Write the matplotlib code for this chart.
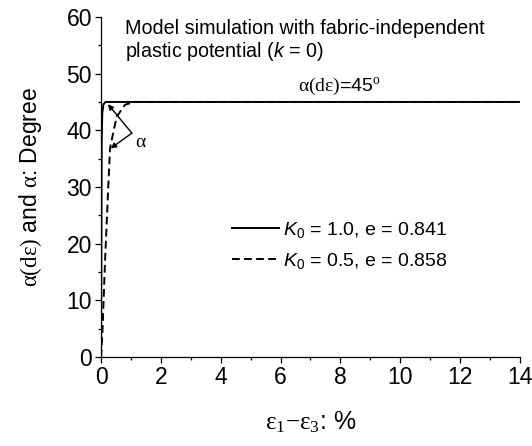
import matplotlib.pyplot as plt
import numpy as np

plt.rcParams['font.family'] = ['Liberation Sans', 'DejaVu Sans']
plt.rcParams['mathtext.fontset'] = 'custom'
plt.rcParams['mathtext.rm'] = 'Liberation Serif'
plt.rcParams['mathtext.it'] = 'Liberation Sans:italic'
plt.rcParams['mathtext.sf'] = 'Liberation Sans'

# K0 = 1.0, e = 0.841
strain_k10 = [0, 0.01, 0.02, 0.04, 0.08, 0.15, 14]
angle_k10 = [0, 20, 38, 43, 44.6, 45, 45]

# K0 = 0.5, e = 0.858
strain_k05 = [0, 0.05, 0.13, 0.24, 0.30, 0.52, 0.80, 1.1, 14]
angle_k05 = [0, 5, 16.6, 30, 36.9, 42.4, 44.5, 45, 45]

fig = plt.figure(figsize=(5.32, 4.46), dpi=100)
ax = fig.add_axes([0.19, 0.1996, 0.787, 0.7624])

ax.plot(strain_k10, angle_k10, color='black', lw=1.4,
        label=r'$K_\mathsf{0}$ = 1.0, e = 0.841')
ax.plot(strain_k05, angle_k05, color='black', lw=1.4, dashes=(4, 2.2),
        label=r'$K_\mathsf{0}$ = 0.5, e = 0.858')

ax.set_xlim(0, 14)
ax.set_ylim(0, 60)
ax.set_xticks(np.arange(0, 15, 2))
ax.set_xticks(np.arange(1, 14, 2), minor=True)
ax.set_yticks(np.arange(0, 61, 10))
ax.set_yticks(np.arange(5, 60, 10), minor=True)
ax.tick_params(which='major', direction='out', length=4.5, width=0.9,
               labelsize=16.5, pad=2)
ax.tick_params(which='minor', direction='out', length=2.5, width=0.9)
ax.spines['top'].set_visible(False)
ax.spines['right'].set_visible(False)
for s in ('left', 'bottom'):
    ax.spines[s].set_linewidth(0.9)

ax.set_xlabel(r'$\mathrm{\varepsilon_1{-}\varepsilon_3}$: %', fontsize=18, labelpad=15)
ax.set_ylabel(r'$\mathrm{\alpha(d\varepsilon)}$ and $\mathrm{\alpha}$: Degree',
              fontsize=16.5, labelpad=16)

ax.text(0.8, 59.6, 'Model simulation with fabric-independent\n'
        'plastic potential ($k$ = 0)', fontsize=14.2, va='top', ha='left',
        linespacing=1.1)
ax.text(6.6, 45.8, r'$\mathrm{\alpha(d\varepsilon)}$=45$^\mathrm{o}$',
        fontsize=14, ha='left', va='bottom')

# angle marker between the two curves
vertex = (1.03, 39.5)
for tip in [(0.23, 44.6), (0.32, 36.8)]:
    ax.annotate('', xy=tip, xytext=vertex,
                arrowprops=dict(arrowstyle='-|>', color='black', lw=1.0,
                                mutation_scale=8, shrinkA=0, shrinkB=0))
ax.text(1.12, 37.8, r'$\mathrm{\alpha}$', fontsize=14, ha='left', va='center')

ax.legend(loc='upper left', bbox_to_anchor=(0.294, 0.427), frameon=False,
          fontsize=14, handlelength=2.4, handletextpad=0.25, labelspacing=0.6,
          borderaxespad=0)

fig.savefig('out.png', dpi=100)
